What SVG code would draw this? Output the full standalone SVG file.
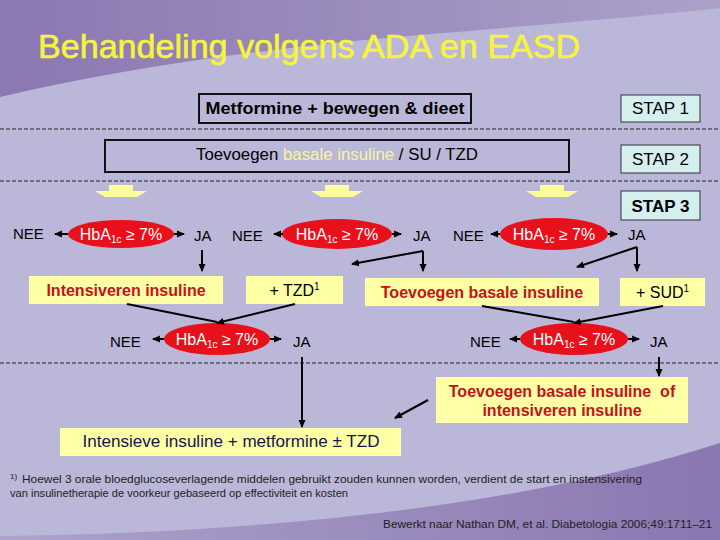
<svg xmlns="http://www.w3.org/2000/svg" width="720" height="540" viewBox="0 0 720 540">
<defs>
<linearGradient id="gTop" x1="0" y1="0" x2="1" y2="0"><stop offset="0" stop-color="#8b77b1"/><stop offset="1" stop-color="#aaa1c9"/></linearGradient>
<linearGradient id="gBot" x1="0" y1="0" x2="1" y2="0"><stop offset="0" stop-color="#aca3cc"/><stop offset="1" stop-color="#8a76b0"/></linearGradient>
<marker id="ah" markerUnits="userSpaceOnUse" markerWidth="9" markerHeight="9" refX="7" refY="4" orient="auto"><path d="M0,0.5 L8,4 L0,7.5 Z" fill="#000"/></marker>
<style>
.t{font-family:"Liberation Sans",Arial,sans-serif;}
.lbl{font-family:"Liberation Sans",Arial,sans-serif;font-size:15px;fill:#000;}
.ell{fill:#e8111b;}
.et{font-family:"Liberation Sans",Arial,sans-serif;font-size:16px;fill:#fff;text-anchor:middle;}
.yb{fill:#ffffa6;}
.red{font-family:"Liberation Sans",Arial,sans-serif;font-size:16px;font-weight:bold;fill:#c4121c;text-anchor:middle;}
.stap{fill:#d5eeee;stroke:#333;stroke-width:1;}
.st{font-family:"Liberation Sans",Arial,sans-serif;font-size:17px;fill:#000;text-anchor:middle;}
.dash{stroke:#222;stroke-width:1;stroke-dasharray:4,2;fill:none;}
.c{stroke:#000;stroke-width:2;fill:none;}
.ca{stroke:#000;stroke-width:2;fill:none;marker-end:url(#ah);}
.ya{fill:#fdfd9e;}
.fn{font-family:"Liberation Sans",Arial,sans-serif;font-size:11px;fill:#222;}
</style>
</defs>
<rect width="720" height="540" fill="#bab7d8"/>
<path d="M0,0 H720 V8 Q660,15 420,35 Q180,55 0,97 Z" fill="url(#gTop)"/>
<path d="M0,540 V536 Q450,530 720,443 V540 Z" fill="url(#gBot)"/>
<text class="t" x="38" y="58" font-size="33" fill="#f6f43c" stroke="#f6f43c" stroke-width="0.6" textLength="542" lengthAdjust="spacingAndGlyphs">Behandeling volgens ADA en EASD</text>

<g id="dashes">
<line class="dash" x1="0" y1="129" x2="720" y2="129"/>
<line class="dash" x1="0" y1="181" x2="720" y2="181"/>
<line class="dash" x1="0" y1="363" x2="720" y2="363"/>
</g>

<g id="stap1"><rect class="stap" x="621" y="95" width="79" height="27"/><text class="st" x="660.5" y="114">STAP 1</text></g>
<g id="stap2"><rect class="stap" x="621" y="145" width="79" height="28"/><text class="st" x="660.5" y="165">STAP 2</text></g>
<g id="stap3"><rect class="stap" x="621" y="191" width="79" height="29"/><text class="st" x="660.5" y="212" font-weight="bold">STAP 3</text></g>

<g id="box1"><rect x="199" y="94" width="272" height="29" fill="none" stroke="#111" stroke-width="2"/><text class="t" x="335" y="114" font-size="16" font-weight="bold" text-anchor="middle" textLength="259" lengthAdjust="spacingAndGlyphs">Metformine + bewegen &amp; dieet</text></g>
<g id="box2"><rect x="105" y="140" width="464" height="32" fill="none" stroke="#111" stroke-width="2"/><text class="t" x="337" y="160" font-size="16" text-anchor="middle" textLength="282" lengthAdjust="spacingAndGlyphs">Toevoegen <tspan fill="#f7f5a2">basale insuline</tspan> / SU / TZD</text></g>

<g id="yarrows">
<polygon class="ya" points="109,185 133,185 133,191 147,191 137,197 105,197 95,191 109,191"/>
<polygon class="ya" points="325,185 349,185 349,191 363,191 353,197 321,197 311,191 325,191"/>
<polygon class="ya" points="540,185 564,185 564,191 578,191 568,197 536,197 526,191 540,191"/>
</g>

<g id="row1">
<text class="lbl" x="13" y="239">NEE</text>
<g id="e1"><ellipse class="ell" cx="121" cy="234" rx="53" ry="14"/><text class="et" x="121" y="240">HbA<tspan font-size="10" dy="3">1c</tspan><tspan dy="-3"> ≥ 7%</tspan></text></g>
<text class="lbl" x="194" y="241">JA</text>
<text class="lbl" x="232" y="241">NEE</text>
<g id="e2"><ellipse class="ell" cx="337" cy="234" rx="55" ry="15"/><text class="et" x="337" y="240">HbA<tspan font-size="10" dy="3">1c</tspan><tspan dy="-3"> ≥ 7%</tspan></text></g>
<text class="lbl" x="413" y="241">JA</text>
<text class="lbl" x="453" y="241">NEE</text>
<g id="e3"><ellipse class="ell" cx="554" cy="234" rx="54" ry="16"/><text class="et" x="554" y="240">HbA<tspan font-size="10" dy="3">1c</tspan><tspan dy="-3"> ≥ 7%</tspan></text></g>
<text class="lbl" x="628" y="240">JA</text>
</g>

<g id="row2">
<g id="b-int"><rect class="yb" x="29" y="276" width="194" height="28"/><text class="red" x="126" y="296">Intensiveren insuline</text></g>
<g id="b-tzd"><rect class="yb" x="246" y="276" width="97" height="28"/><text class="t" x="294.5" y="296" font-size="16" text-anchor="middle">+ TZD<tspan font-size="10" dy="-6">1</tspan></text></g>
<g id="b-bas"><rect class="yb" x="365" y="278" width="234" height="28"/><text class="red" x="482" y="298">Toevoegen basale insuline</text></g>
<g id="b-sud"><rect class="yb" x="620" y="278" width="85" height="28"/><text class="t" x="662.5" y="298" font-size="16" text-anchor="middle">+ SUD<tspan font-size="10" dy="-6">1</tspan></text></g>
</g>

<g id="row3">
<text class="lbl" x="110" y="347">NEE</text>
<g id="e4"><ellipse class="ell" cx="217" cy="339" rx="53" ry="16"/><text class="et" x="217" y="345">HbA<tspan font-size="10" dy="3">1c</tspan><tspan dy="-3"> ≥ 7%</tspan></text></g>
<text class="lbl" x="293" y="347">JA</text>
<text class="lbl" x="470" y="347">NEE</text>
<g id="e5"><ellipse class="ell" cx="574" cy="339" rx="54" ry="16"/><text class="et" x="574" y="345">HbA<tspan font-size="10" dy="3">1c</tspan><tspan dy="-3"> ≥ 7%</tspan></text></g>
<text class="lbl" x="650" y="347">JA</text>
</g>

<g id="b-final"><rect class="yb" x="60" y="428" width="341" height="28"/><text class="t" x="231" y="447" font-size="16" fill="#14144a" text-anchor="middle" textLength="297" lengthAdjust="spacingAndGlyphs">Intensieve insuline + metformine ± TZD</text></g>
<g id="b-of"><rect class="yb" x="436" y="377" width="252" height="46"/><text class="red" x="562" y="397">Toevoegen basale insuline&#160; of</text><text class="red" x="562" y="416">intensiveren insuline</text></g>

<g id="connectors">
<path class="ca" d="M68,234 H55"/>
<path class="ca" d="M174,234 H184"/>
<path class="ca" d="M283,234 H274"/>
<path class="ca" d="M392,234 H401"/>
<path class="ca" d="M500,234 H491"/>
<path class="ca" d="M608,234 H617"/>
<path class="ca" d="M202,250 V271"/>
<path class="ca" d="M423,251 L352,264"/>
<path class="ca" d="M423,251 V271"/>
<path class="ca" d="M637,247 L577,267"/>
<path class="ca" d="M637,247 V271"/>
<path class="c" d="M127,304 L217,322"/>
<path class="ca" d="M295,304 L217,323"/>
<path class="c" d="M482,306 L574,322"/>
<path class="ca" d="M663,306 L574,323"/>
<path class="ca" d="M164,339 H153"/>
<path class="ca" d="M270,339 H281"/>
<path class="ca" d="M520,339 H510"/>
<path class="ca" d="M628,339 H639"/>
<path class="ca" d="M302,357 V427"/>
<path class="ca" d="M659,357 V376"/>
<path class="ca" d="M428,400 L395,418"/>
</g>

<g id="footnote">
<text class="fn" x="10" y="483"><tspan font-size="8" dy="-4">1)</tspan><tspan x="22" dy="4" textLength="620" lengthAdjust="spacingAndGlyphs">Hoewel 3 orale bloedglucoseverlagende middelen gebruikt zouden kunnen worden, verdient de start en instensivering</tspan></text>
<text class="fn" x="10" y="497" textLength="338" lengthAdjust="spacingAndGlyphs">van insulinetherapie de voorkeur gebaseerd op effectiviteit en kosten</text>
<text class="fn" x="383" y="528" textLength="329" lengthAdjust="spacingAndGlyphs">Bewerkt naar Nathan DM, et al. Diabetologia 2006;49:1711–21</text>
</g>
</svg>
